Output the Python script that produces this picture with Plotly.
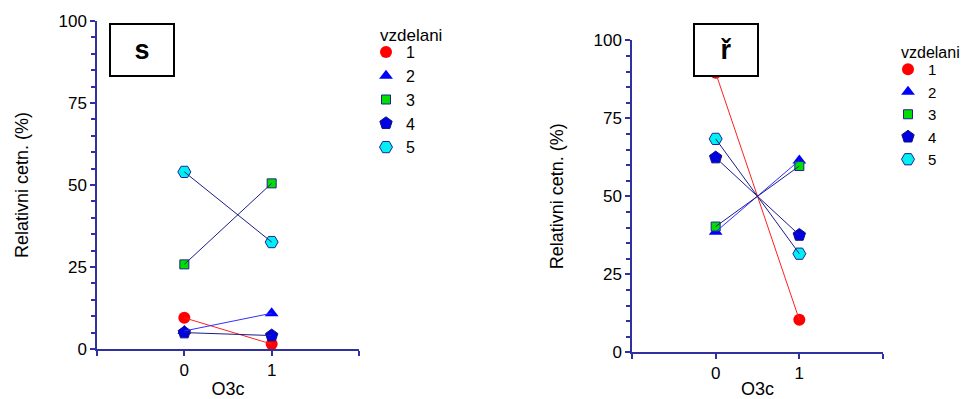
import plotly.graph_objects as go

# Categories on the x axis
x_cats = [0, 1]
x_tickvals = [-1, 0, 1, 2]
x_ticktext = ["", "0", "1", ""]
y_major = [0, 25, 50, 75, 100]

series_names = ["1", "2", "3", "4", "5"]
legend_title = "vzdelani"

# Panel "s": relative frequencies (%) per vzdelani group
s_1 = [9.5, 1.5]
s_2 = [5.5, 10.9]
s_3 = [25.8, 50.5]
s_4 = [5.0, 4.1]
s_5 = [54.0, 32.6]

# Panel "ř": relative frequencies (%) per vzdelani group
r_1 = [89.6, 10.4]
r_2 = [38.6, 61.5]
r_3 = [40.3, 59.7]
r_4 = [62.4, 37.6]
r_5 = [68.4, 31.6]

FONT = "Liberation Sans, Arial, sans-serif"
AXIS_COL = "#3030a0"
NAVY = "#1c1c8a"

styles = [
    dict(symbol="circle", size=12, color="#ff0000", line=dict(color="#ff0000", width=0), lcol="#ff2020"),
    dict(symbol="triangle-up", size=12, color="#0000ff", line=dict(color="#0000ff", width=0), lcol="#3030ff"),
    dict(symbol="square", size=9, color="#00e000", line=dict(color="#202090", width=1), lcol=NAVY),
    dict(symbol="pentagon", size=13, color="#0000e0", line=dict(color="#101080", width=1), lcol=NAVY),
    dict(symbol="hexagon2", size=13, color="#00f0f0", line=dict(color="#2020a0", width=1), lcol=NAVY),
]

fig = go.Figure()

panels = [
    ([s_1, s_2, s_3, s_4, s_5], "x", "y", "legend"),
    ([r_1, r_2, r_3, r_4, r_5], "x2", "y2", "legend2"),
]

for data, xa, ya, leg in panels:
    for name, vals, st in zip(series_names, data, styles):
        fig.add_trace(go.Scatter(
            x=x_cats, y=vals, mode="markers", name=name,
            xaxis=xa, yaxis=ya, legend=leg, cliponaxis=False,
            marker=dict(symbol=st["symbol"], size=st["size"], color=st["color"], line=st["line"]),
        ))
    # connecting lines drawn over the markers
    for name, vals, st in zip(series_names, data, styles):
        fig.add_trace(go.Scatter(
            x=x_cats, y=vals, mode="lines", showlegend=False, hoverinfo="skip",
            xaxis=xa, yaxis=ya, cliponaxis=False,
            line=dict(color=st["lcol"], width=1),
        ))

W, H = 962, 399


def xd(a, b):
    return [a / W, b / W]


def yd(top, bottom):
    return [1 - bottom / H, 1 - top / H]


common_x = dict(
    range=[-1, 2], tickvals=x_tickvals, ticktext=x_ticktext,
    ticks="outside", ticklen=5, tickcolor=AXIS_COL, tickwidth=1.5,
    showline=True, linecolor=AXIS_COL, linewidth=1.5,
    showgrid=False, zeroline=False, automargin=False,
    tickfont=dict(family=FONT, size=17, color="#000"),
    title=dict(text="O3c", font=dict(family=FONT, size=18, color="#000"), standoff=6),
)
common_y = dict(
    range=[0, 100], tickvals=y_major,
    ticks="outside", ticklen=5, tickcolor=AXIS_COL, tickwidth=1.5,
    minor=dict(dtick=5, ticks="outside", ticklen=4, tickcolor=AXIS_COL, tickwidth=1.5, showgrid=False),
    showline=True, linecolor=AXIS_COL, linewidth=1.5,
    showgrid=False, zeroline=False, automargin=False,
    tickfont=dict(family=FONT, size=17, color="#000"),
    title=dict(text="Relativni cetn. (%)", font=dict(family=FONT, size=18, color="#000"), standoff=25),
)

legend_common = dict(
    xanchor="left", yanchor="top", bgcolor="rgba(0,0,0,0)",
    itemwidth=30, tracegroupgap=0,
)

fig.update_layout(
    width=W, height=H,
    margin=dict(l=0, r=0, t=0, b=0),
    paper_bgcolor="white", plot_bgcolor="white",
    font=dict(family=FONT, color="#000"),
    xaxis=dict(domain=xd(97, 359), anchor="y", **common_x),
    yaxis=dict(domain=yd(21, 349), anchor="x", **common_y),
    xaxis2=dict(domain=xd(632, 883), anchor="y2", **common_x),
    yaxis2=dict(domain=yd(40.3, 352.3), anchor="x2", **common_y),
    legend=dict(x=366 / W, y=1 - 35 / H, font=dict(family=FONT, size=16), **legend_common),
    legend2=dict(x=888 / W, y=1 - 53 / H, font=dict(family=FONT, size=15), **legend_common),
    showlegend=True,
)

# Legend headings
for lx, ly, fs in [(378, 35, 17), (899, 53, 16)]:
    fig.add_annotation(
        text=legend_title, x=lx / W, y=1 - ly / H, xref="paper", yref="paper",
        xanchor="left", yanchor="middle", showarrow=False,
        font=dict(family=FONT, size=fs, color="#000"),
    )

# Panel labels in framed boxes
for label, cx, cy in [("s", 141.5, 50.5), ("ř", 725.5, 50.5)]:
    fig.add_annotation(
        text=f"<b>{label}</b>", x=cx / W, y=1 - cy / H, xref="paper", yref="paper",
        xanchor="center", yanchor="middle", showarrow=False,
        width=62, height=50, borderpad=0, borderwidth=2, bordercolor="#000",
        bgcolor="white", font=dict(family=FONT, size=27, color="#000"),
    )

fig.write_html("out.html")
